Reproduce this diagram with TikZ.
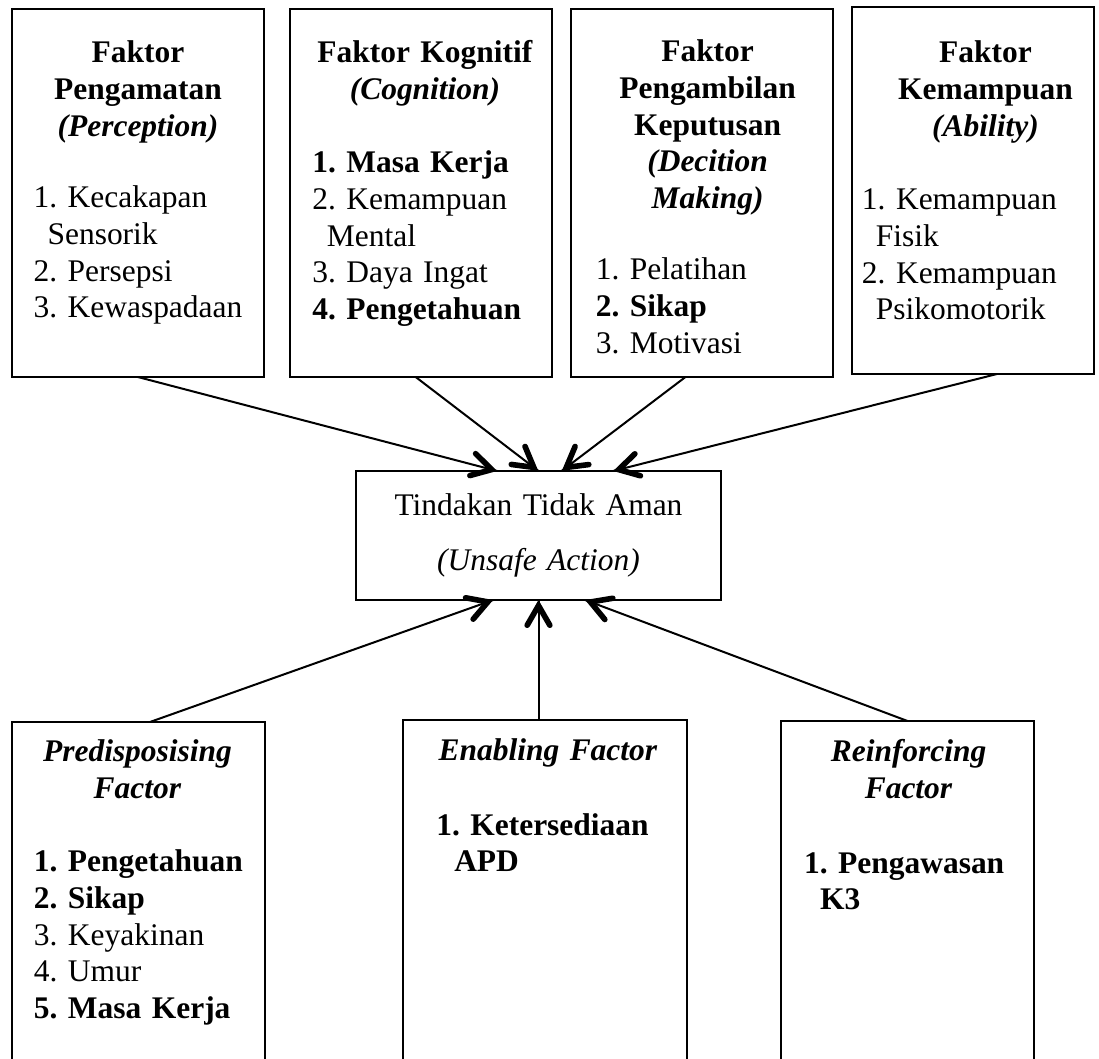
\documentclass[tikz,border=0pt]{standalone}
\usepackage{fontspec}
\setmainfont{Liberation Serif}
\frenchspacing
\usetikzlibrary{arrows,decorations.markings}

\tikzset{
  kotak/.style={draw, line width=1.5pt, inner sep=0pt, outer sep=0pt},
  judul/.style={anchor=base, align=center, text width=180pt, inner sep=0pt},
  daftar/.style={anchor=base west, align=left, text width=180pt, inner sep=0pt},
  panah/.style={line width=1.5pt, decoration={markings,mark=at position 1 with
    {\arrow[scale=2.8,>=angle 60]{>}}},postaction={decorate}}
}

\begin{document}
\begin{tikzpicture}[x=0.75pt,y=-0.75pt,font=\fontsize{23.6}{27.5}\selectfont]
\useasboundingbox (0,0) rectangle (1099,1059);
\clip (0,0) rectangle (1099,1059);

% kotak atas
\node[kotak, minimum width=189.2pt, minimum height=276pt, anchor=north west] (p1) at (11.7,9) {};
\node[kotak, minimum width=196.5pt, minimum height=276pt, anchor=north west] (p2) at (290,9) {};
\node[kotak, minimum width=196.5pt, minimum height=276pt, anchor=north west] (p3) at (571,9) {};
\node[kotak, minimum width=181.5pt, minimum height=275.25pt, anchor=north west] (p4) at (852,7) {};

\node[judul] (t1) at (138,63) {\textbf{Faktor}\\\textbf{Pengamatan}\\\textbf{\textit{(Perception)}}};
\node[daftar] (l1) at (33.3,208) {1. Kecakapan\\\hspace*{10.5pt}Sensorik\\2. Persepsi\\3. Kewaspadaan};

\node[judul] (t2) at (425,63) {\textbf{Faktor Kognitif}\\\textbf{\textit{(Cognition)}}};
\node[daftar] (l2) at (312,173) {\textbf{1. Masa Kerja}\\2. Kemampuan\\\hspace*{11pt}Mental\\3. Daya Ingat\\\textbf{4. Pengetahuan}};

\node[judul] (t3) at (707.6,62) {\textbf{Faktor}\\\textbf{Pengambilan}\\\textbf{Keputusan}\\\textbf{\textit{(Decition}}\\\textbf{\textit{Making)}}};
\node[daftar] (l3) at (595.5,280) {1. Pelatihan\\\textbf{2. Sikap}\\3. Motivasi};

\node[judul] (t4) at (985.5,63) {\textbf{Faktor}\\\textbf{Kemampuan}\\\textbf{\textit{(Ability)}}};
\node[daftar] (l4) at (861.7,210) {1. Kemampuan\\\hspace*{10.5pt}Fisik\\2. Kemampuan\\\hspace*{10.5pt}Psikomotorik};

% tindakan tidak aman
\node[kotak, minimum width=273.75pt, minimum height=96.75pt, text width=250pt, align=center,
  font=\fontsize{23.6}{41.25}\selectfont] (c) at (538.5,535.5) {Tindakan Tidak Aman\\\textit{(Unsafe Action)}};

% kotak bawah
\node[kotak, minimum width=190pt, minimum height=268.5pt, anchor=north west] (e1) at (11.7,722) {};
\node[kotak, minimum width=213.2pt, minimum height=268.5pt, anchor=north west] (e2) at (402.7,720) {};
\node[kotak, minimum width=189.75pt, minimum height=268.5pt, anchor=north west] (e3) at (781,721) {};

\node[judul] (t5) at (137.5,761.7) {\textbf{\textit{Predisposising}}\\\textbf{\textit{Factor}}};
\node[daftar] (l5) at (33.6,871.7) {\textbf{1. Pengetahuan}\\\textbf{2. Sikap}\\3. Keyakinan\\4. Umur\\\textbf{5. Masa Kerja}};

\node[judul] (t6) at (548,760) {\textbf{\textit{Enabling Factor}}};
\node[daftar] (l6) at (436,835) {\textbf{1. Ketersediaan}\\\hspace*{13.5pt}\textbf{APD}};

\node[judul] (t7) at (908.6,761.7) {\textbf{\textit{Reinforcing}}\\\textbf{\textit{Factor}}};
\node[daftar] (l7) at (803.8,873) {\textbf{1. Pengawasan}\\\hspace*{12pt}\textbf{K3}};

% panah
\draw[panah] (p1.south) -- ([xshift=-31pt]c.north);
\draw[panah] ([xshift=-4pt]p2.south) -- (c.north);
\draw[panah] ([xshift=-12.4pt]p3.south) -- ([xshift=17.3pt]c.north);
\draw[panah] ([xshift=18pt]p4.south) -- ([xshift=56pt]c.north);
\draw[panah] ([xshift=8.7pt]e1.north) -- ([xshift=-34pt]c.south);
\draw[panah] (c.south |- e2.north) -- (c.south);
\draw[panah] (e3.north) -- ([xshift=35pt]c.south);
\end{tikzpicture}
\end{document}
